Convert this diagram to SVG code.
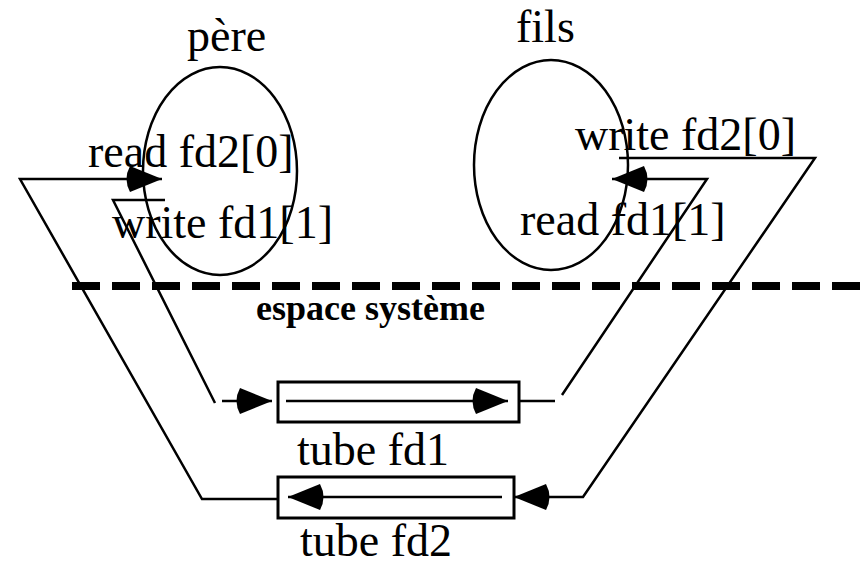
<svg xmlns="http://www.w3.org/2000/svg" width="860" height="568" viewBox="0 0 860 568">
  <style>
    .lbl { font-family: "Liberation Serif", "Times New Roman", serif; font-size: 46px; fill: #000; }
    .sys { font-family: "Liberation Serif", "Times New Roman", serif; font-size: 36px; font-weight: bold; fill: #000; }
    .proc { fill: none; stroke: #000; stroke-width: 2.5; }
    .tube { fill: #fff; stroke: #000; stroke-width: 3; }
    .wire { fill: none; stroke: #000; stroke-width: 2.5; stroke-linejoin: miter; }
    .arrow { marker-end: url(#head); }
    .border { stroke: #000; stroke-width: 8; stroke-dasharray: 28 12; }
  </style>
  <defs>
    <marker id="head" viewBox="-3 0 39 26" markerWidth="39" markerHeight="26" refX="36" refY="13" orient="auto" markerUnits="userSpaceOnUse">
      <path d="M36,13 L4,0 Q-3,13 4,26 Z" fill="#000"/>
    </marker>
  </defs>

  <!-- user / kernel boundary -->
  <line class="border" x1="72" y1="286" x2="860" y2="286"/>
  <text class="sys" x="256" y="320">espace système</text>

  <!-- parent process -->
  <g id="pere">
    <ellipse class="proc" cx="220" cy="171" rx="77" ry="104"/>
    <text class="lbl" x="187" y="51">père</text>
    <text class="lbl" x="88" y="167">read fd2[0]</text>
    <text class="lbl" x="112" y="238">write fd1[1]</text>
  </g>

  <!-- child process -->
  <g id="fils">
    <ellipse class="proc" cx="551" cy="165" rx="77" ry="105"/>
    <text class="lbl" x="516" y="42">fils</text>
    <text class="lbl" x="575" y="150">write fd2[0]</text>
    <text class="lbl" x="520" y="235">read fd1[1]</text>
  </g>

  <!-- pipe fd1 -->
  <g id="tube-fd1">
    <rect class="tube" x="278" y="382" width="241" height="40"/>
    <text class="lbl" x="297" y="465">tube fd1</text>
  </g>

  <!-- pipe fd2 -->
  <g id="tube-fd2">
    <rect class="tube" x="278" y="477" width="236" height="41"/>
    <text class="lbl" x="300" y="556">tube fd2</text>
  </g>

  <!-- data paths -->
  <g id="connectors">
    <!-- fd2 -> père read -->
    <path class="wire arrow" d="M278,499 L202,499 L20,179 L162,179"/>
    <!-- père write -> fd1 -->
    <path class="wire" d="M165,200 L113,200 L215,403"/>
    <path class="wire arrow" d="M222,401 L272,401"/>
    <!-- flow inside fd1 -->
    <path class="wire arrow" d="M286,401 L508,401"/>
    <!-- fd1 -> fils read -->
    <path class="wire" d="M519,401 L555,401"/>
    <path class="wire arrow" d="M562,395 L707,179 L612,179"/>
    <!-- fils write -> fd2 -->
    <path class="wire arrow" d="M619,158 L815,158 L583,497 L514,497"/>
    <!-- flow inside fd2 -->
    <path class="wire arrow" d="M502,497 L288,497"/>
  </g>
</svg>
